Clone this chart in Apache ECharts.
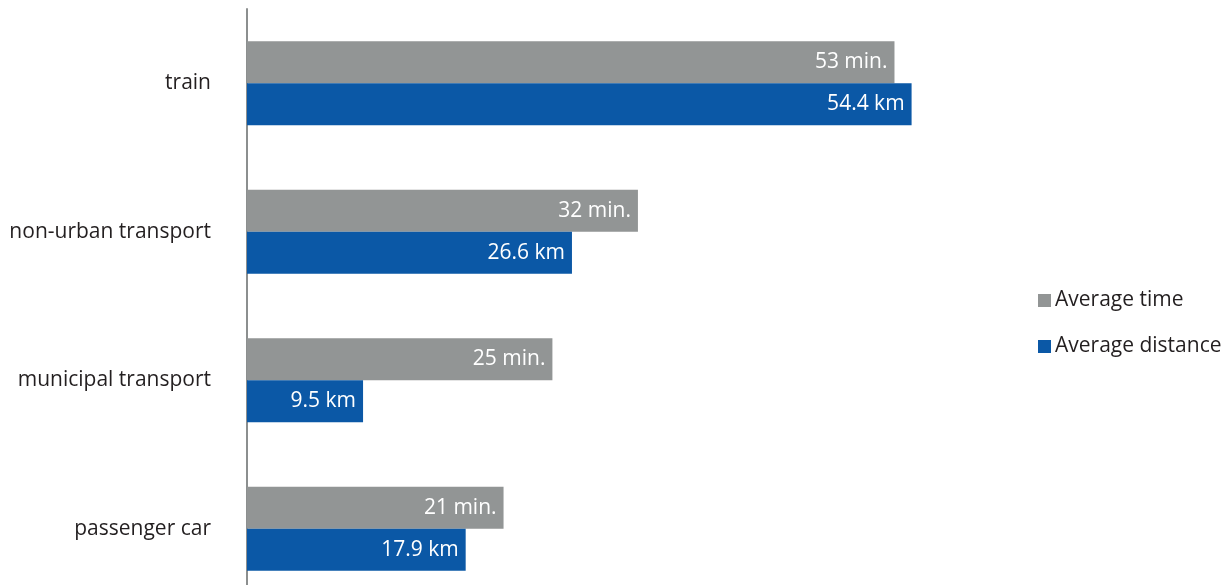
<!DOCTYPE html>
<html>
<head>
<meta charset="utf-8">
<style>
  html, body { margin: 0; padding: 0; background: #ffffff; }
  #chart { width: 1231px; height: 585px; }
</style>
<script src="https://cdn.jsdelivr.net/npm/echarts@6/dist/echarts.min.js"></script>
</head>
<body>
<div id="chart"></div>
<script>
// Commute modes, top to bottom
const categories = ['train', 'non-urban transport', 'municipal transport', 'passenger car'];
// Average travel time, minutes
const averageTime = [53, 32, 25, 21];
// Average travel distance, km
const averageDistance = [54.4, 26.6, 9.5, 17.9];
const seriesNames = ['Average time', 'Average distance'];

const FONT = '"Open Sans", "Noto Sans", sans-serif';
const GREY = '#929595';
const BLUE = '#0b58a6';

const chart = echarts.init(document.getElementById('chart'), null, { renderer: 'canvas' });

function barLabel(suffix) {
  return {
    show: true,
    position: 'insideRight',
    distance: 7,
    color: '#ffffff',
    fontFamily: FONT,
    fontSize: 21,
    formatter: p => p.value + suffix
  };
}

chart.setOption({
  animation: false,
  backgroundColor: '#ffffff',
  // the last band runs past the bottom edge, so the plot area is taller than the canvas
  grid: { left: 247, right: 251, top: 9, bottom: -18, outerBoundsMode: 'none' },
  legend: {
    orient: 'vertical',
    left: 1033,
    top: 285,
    itemWidth: 13,
    itemHeight: 13,
    itemGap: 25,
    icon: 'rect',
    textStyle: { fontFamily: FONT, fontSize: 21, color: '#231f20', lineHeight: 20, padding: [0, 0, 0, -1] },
    data: seriesNames
  },
  xAxis: {
    type: 'value',
    min: 0,
    max: 60,
    show: false
  },
  yAxis: {
    type: 'category',
    inverse: true,
    data: categories,
    axisLine: { show: true, lineStyle: { color: '#8c8f8f', width: 2 } },
    axisTick: { show: false },
    axisLabel: { margin: 36, fontFamily: FONT, fontSize: 21, color: '#231f20' }
  },
  series: [
    {
      name: seriesNames[0],
      type: 'bar',
      data: averageTime,
      barWidth: 42,
      barGap: '0%',
      itemStyle: { color: GREY },
      label: barLabel(' min.')
    },
    {
      name: seriesNames[1],
      type: 'bar',
      data: averageDistance,
      barWidth: 42,
      barGap: '0%',
      itemStyle: { color: BLUE },
      label: barLabel(' km')
    }
  ]
});
</script>
</body>
</html>
